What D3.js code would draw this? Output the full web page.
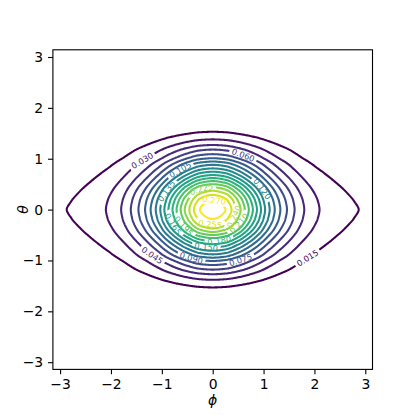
<!DOCTYPE html>
<html>
<head>
<meta charset="utf-8">
<script src="https://cdn.jsdelivr.net/npm/d3@7"></script>
<style>
  body { margin: 0; background: #fff; }
  svg { display: block; }
  text { font-family: "DejaVu Sans", sans-serif; }
</style>
</head>
<body>
<div class="chart"></div>
<script>
// contour levels drawn in the plot
var levels = [0.015, 0.030, 0.045, 0.060, 0.075, 0.090, 0.105, 0.120, 0.135,
              0.150, 0.165, 0.180, 0.195, 0.210, 0.225, 0.240, 0.255, 0.270];
// where each level crosses the phi axis (theta = 0)
var phiCross = [2.87, 2.10, 1.80, 1.61, 1.46, 1.33, 1.22, 1.12, 1.03,
                0.95, 0.87, 0.79, 0.71, 0.63, 0.55, 0.46, 0.37, 0.25];
// where each level crosses the theta axis (phi = 0)
var thetaCross = [1.53, 1.38, 1.27, 1.18, 1.09, 1.01, 0.945, 0.88, 0.81,
                  0.745, 0.68, 0.62, 0.56, 0.50, 0.44, 0.37, 0.29, 0.185];
var peakValue = 0.282;     // top of the bump, just above the last level
var phiEdgeValue = 0.0142; // value at phi = +-pi, theta = 0 (under the lowest line)
var xTicks = [-3, -2, -1, 0, 1, 2, 3];
var yTicks = [-3, -2, -1, 0, 1, 2, 3];

// where the inline labels sit: screen angle (deg) round the centre, one per level
var labelAngle = [27, -145, 143, -61, 61, 114, -129, -23, -158,
                  100, 160, 78, 150, 28, -118, 18, 98, -80];

var W = 415, H = 415;
var mLeft = 52.9, mRight = 372.5, mTop = 49.8, mBottom = 369.4;

var svg = d3.select(".chart").append("svg")
  .attr("width", W).attr("height", H);
var defs = svg.append("defs");

var x = d3.scaleLinear().domain([-Math.PI, Math.PI]).range([mLeft, mRight]);
var y = d3.scaleLinear().domain([-Math.PI, Math.PI]).range([mBottom, mTop]);
var color = function(v) {
  return d3.interpolateViridis((v - levels[0]) / (levels[levels.length - 1] - levels[0]));
};

// monotone cubic through the read crossings (log space)
function monotone(xs, ys, d0, dn) {
  var n = xs.length, h = [], s = [], m = [];
  for (var i = 0; i < n - 1; i++) {
    h[i] = xs[i + 1] - xs[i];
    s[i] = (ys[i + 1] - ys[i]) / h[i];
  }
  m[0] = d0 != null ? d0 : s[0];
  m[n - 1] = dn != null ? dn : s[n - 2];
  for (var i = 1; i < n - 1; i++) {
    if (s[i - 1] * s[i] <= 0) m[i] = 0;
    else {
      var w1 = 2 * h[i] + h[i - 1], w2 = h[i] + 2 * h[i - 1];
      m[i] = (w1 + w2) / (w1 / s[i - 1] + w2 / s[i]);
    }
  }
  return function(v) {
    if (v <= xs[0]) return ys[0] + m[0] * (v - xs[0]);
    if (v >= xs[n - 1]) return ys[n - 1] + m[n - 1] * (v - xs[n - 1]);
    var i = d3.bisectRight(xs, v) - 1;
    var t = (v - xs[i]) / h[i], t2 = t * t, t3 = t2 * t;
    return (2 * t3 - 3 * t2 + 1) * ys[i] + (t3 - 2 * t2 + t) * h[i] * m[i] +
           (-2 * t3 + 3 * t2) * ys[i + 1] + (t3 - t2) * h[i] * m[i + 1];
  };
}

var logLev = levels.map(Math.log).reverse();
var lp = monotone([0].concat(phiCross.slice().reverse(), [Math.PI]),
                  [Math.log(peakValue)].concat(logLev, [Math.log(phiEdgeValue)]), 0, 0);
var lq = monotone([0].concat(thetaCross.slice().reverse()),
                  [Math.log(peakValue)].concat(logLev), 0, null);

// grid for d3.contours
var n = 320, step = 2 * Math.PI / n;
var values = new Float64Array(n * n);
for (var j = 0; j < n; j++) {
  var th = Math.PI - (j + 0.5) * step;
  for (var i = 0; i < n; i++) {
    var ph = -Math.PI + (i + 0.5) * step;
    values[j * n + i] = Math.exp(lp(Math.abs(ph)) + lq(Math.abs(th)) - Math.log(peakValue));
  }
}

var contours = d3.contours().size([n, n]).thresholds(levels)(values);

var toScreen = function(p) {
  return [x(-Math.PI + p[0] * step), y(Math.PI - p[1] * step)];
};
var path = d3.geoPath(d3.geoTransform({
  point: function(px, py) {
    var s = toScreen([px, py]);
    this.stream.point(s[0], s[1]);
  }
}));

defs.append("clipPath").attr("id", "plotclip")
  .append("rect").attr("x", mLeft).attr("y", mTop)
  .attr("width", mRight - mLeft).attr("height", mBottom - mTop);

var plot = svg.append("g").attr("clip-path", "url(#plotclip)");
var labels = svg.append("g");
var cx = x(0), cy = y(0);

contours.forEach(function(c, k) {
  if (!c.coordinates.length) return;
  plot.append("path")
    .attr("d", path(c))
    .attr("fill", "none")
    .attr("stroke", color(c.value))
    .attr("stroke-width", 2.08)
    .attr("mask", "url(#m" + k + ")");

  // pick label spot on the ring
  var ring = c.coordinates[0][0].map(toScreen);
  var len = ring.length - 1;
  var want = labelAngle[k] * Math.PI / 180, best = 0, bestD = 1e9;
  ring.slice(0, len).forEach(function(p, i) {
    var a = Math.atan2(p[1] - cy, p[0] - cx);
    var d = Math.abs(Math.atan2(Math.sin(a - want), Math.cos(a - want)));
    if (d < bestD) { bestD = d; best = i; }
  });
  var p0 = ring[(best - 3 + len) % len], p1 = ring[(best + 3) % len];
  var rot = Math.atan2(p1[1] - p0[1], p1[0] - p0[0]) * 180 / Math.PI;
  if (rot > 90) rot -= 180;
  if (rot < -90) rot += 180;
  var pt = ring[best];

  var txt = labels.append("text")
    .attr("transform", "translate(" + pt[0] + "," + pt[1] + ") rotate(" + rot + ")")
    .attr("text-anchor", "middle")
    .attr("dy", "0.35em")
    .attr("font-size", "8.3px")
    .attr("fill", color(c.value))
    .text(c.value.toFixed(3));
  var tw = txt.node().getComputedTextLength() + 5;

  var mask = defs.append("mask").attr("id", "m" + k)
    .attr("maskUnits", "userSpaceOnUse")
    .attr("x", 0).attr("y", 0).attr("width", W).attr("height", H);
  mask.append("rect").attr("x", 0).attr("y", 0).attr("width", W).attr("height", H).attr("fill", "#fff");
  mask.append("rect")
    .attr("x", -tw / 2).attr("y", -5).attr("width", tw).attr("height", 10)
    .attr("transform", "translate(" + pt[0] + "," + pt[1] + ") rotate(" + rot + ")")
    .attr("fill", "#000");
});

// axes
var fmt = function(d) { return d < 0 ? "\u2212" + (-d) : "" + d; };
var xAxis = svg.append("g")
  .attr("transform", "translate(0," + mBottom + ")")
  .call(d3.axisBottom(x).tickValues(xTicks).tickFormat(fmt)
        .tickSize(4.86).tickSizeOuter(0).tickPadding(4.86));
var yAxis = svg.append("g")
  .attr("transform", "translate(" + mLeft + ",0)")
  .call(d3.axisLeft(y).tickValues(yTicks).tickFormat(fmt)
        .tickSize(4.86).tickSizeOuter(0).tickPadding(4.86));
[xAxis, yAxis].forEach(function(g) {
  g.select(".domain").remove();
  g.selectAll("line").attr("stroke", "#000").attr("stroke-width", 1.11);
  g.selectAll("text").attr("font-size", "13.9px").attr("fill", "#000")
    .attr("font-family", "DejaVu Sans");
});

svg.append("rect")
  .attr("x", mLeft).attr("y", mTop)
  .attr("width", mRight - mLeft).attr("height", mBottom - mTop)
  .attr("fill", "none").attr("stroke", "#000").attr("stroke-width", 1.11);

svg.append("text")
  .attr("x", (mLeft + mRight) / 2).attr("y", 405)
  .attr("text-anchor", "middle")
  .attr("font-size", "13.9px").attr("font-style", "italic")
  .text("\u03d5");
svg.append("text")
  .attr("transform", "translate(28," + ((mTop + mBottom) / 2) + ") rotate(-90)")
  .attr("text-anchor", "middle")
  .attr("font-size", "13.9px").attr("font-style", "italic")
  .text("\u03b8");
</script>
</body>
</html>
